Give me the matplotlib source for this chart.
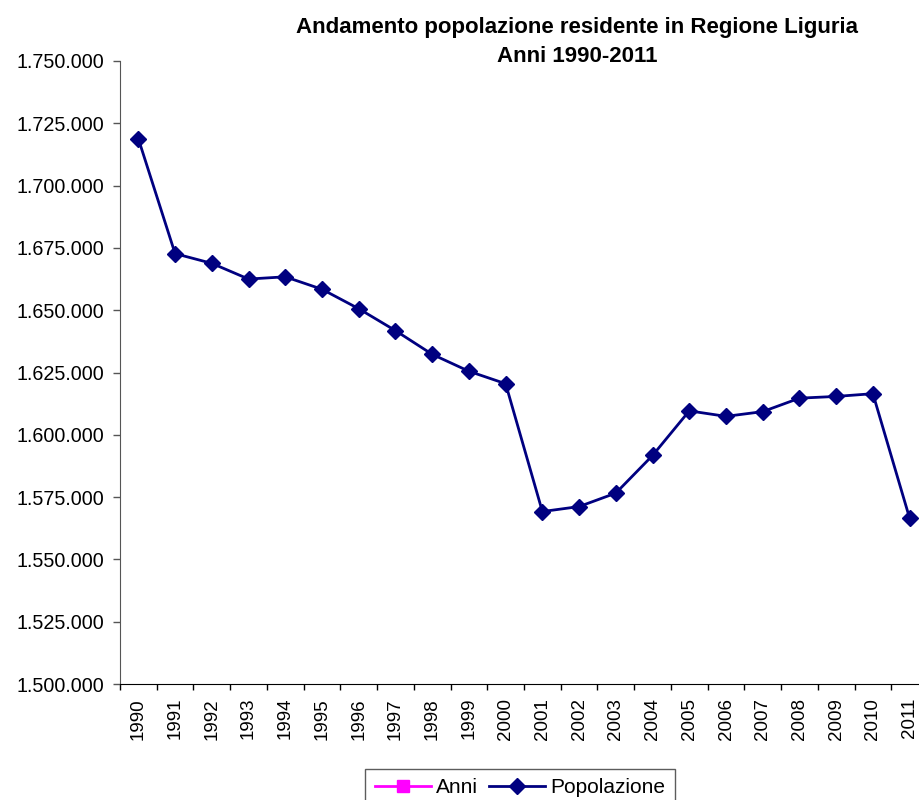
import matplotlib.pyplot as plt
import numpy as np
from matplotlib.lines import Line2D
from matplotlib.ticker import FuncFormatter, FixedLocator

plt.rcParams['font.family'] = ['Liberation Sans', 'DejaVu Sans']

# dati
anni = ["1990", "1991", "1992", "1993", "1994", "1995", "1996", "1997", "1998", "1999", "2000",
        "2001", "2002", "2003", "2004", "2005", "2006", "2007", "2008", "2009", "2010", "2011"]
popolazione = [1718800, 1672700, 1668800, 1662500, 1663400, 1658400, 1650600, 1641800,
               1632300, 1625500, 1620500, 1569200, 1571200, 1576600, 1591700, 1609600,
               1607400, 1609300, 1614700, 1615400, 1616500, 1566500]
y_ticks = list(range(1500000, 1750001, 25000))

fig = plt.figure(figsize=(9.2, 8), dpi=100)
# l'area del grafico va un po' oltre il bordo destro come nell'originale
ax = fig.add_axes([120/920, 1 - 684/800, 808/920, (684 - 61)/800])

x = np.arange(len(anni))
ax.plot(x, popolazione, color="#000080", lw=2.0, marker="D", markersize=8.5,
        markerfacecolor="#000080", markeredgecolor="#000080", clip_on=False)

ax.set_xlim(-0.5, len(anni) - 0.5)
ax.set_ylim(1500000, 1750000)
ax.set_yticks(y_ticks)
ax.yaxis.set_major_formatter(FuncFormatter(lambda v, p: f"{int(v):,}".replace(",", ".")))

ax.set_xticks(x)
ax.set_xticklabels(anni, rotation=90)
ax.xaxis.set_minor_locator(FixedLocator(np.arange(-0.5, len(anni), 1.0)))
ax.tick_params(axis="x", which="major", length=0, pad=10, labelsize=13.5)
ax.tick_params(axis="x", which="minor", length=4, width=1, direction="out")
ax.tick_params(axis="y", length=5, width=1, labelsize=14.2, pad=6, color="#555555")

for s in ["top", "right"]:
    ax.spines[s].set_visible(False)
ax.spines["left"].set_color("#555555")
ax.spines["bottom"].set_color("black")

fig.text(577/920, 1 - 28/800, "Andamento popolazione residente in Regione Liguria",
         ha="center", va="center", fontsize=16, fontweight="bold")
fig.text(577/920, 1 - 57/800, "Anni 1990-2011",
         ha="center", va="center", fontsize=16, fontweight="bold")

handles = [Line2D([], [], color="#FF00FF", lw=2, marker="s", markersize=8.5),
           Line2D([], [], color="#000080", lw=2, marker="D", markersize=8)]
leg = fig.legend(handles, ["Anni", "Popolazione"], loc="upper center",
                 bbox_to_anchor=(520/920, 1 - 769/800), ncol=2, frameon=True,
                 fancybox=False, edgecolor="#333333", fontsize=15,
                 handlelength=2.7, handletextpad=0.25, columnspacing=0.5,
                 borderpad=0.45, borderaxespad=0)
leg.get_frame().set_linewidth(1)

fig.savefig("out.png", dpi=100)
